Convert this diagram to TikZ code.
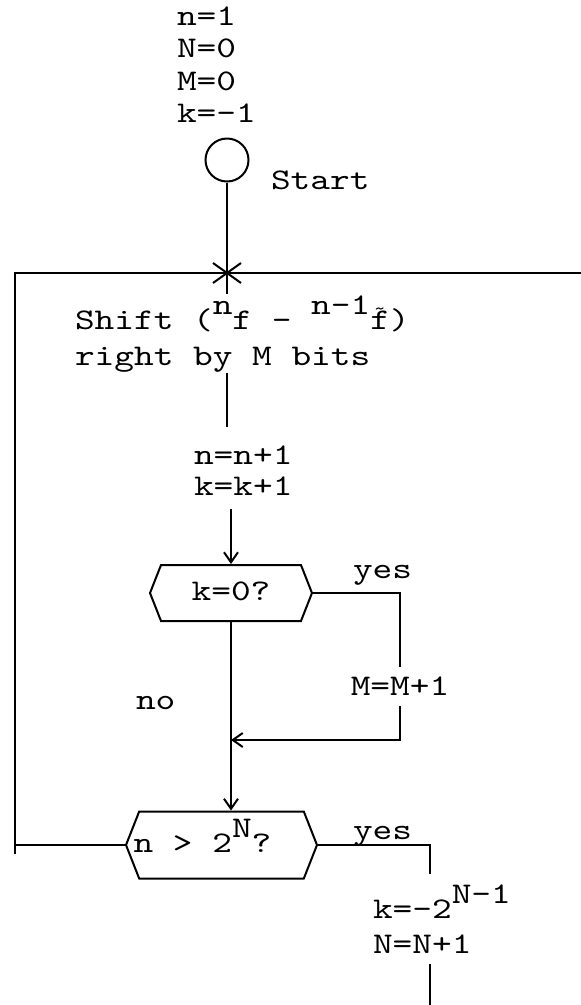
\documentclass[tikz,border=0pt]{standalone}
\usepackage{fontspec}
\setmainfont{lmmono10-regular.otf}[FakeStretch=1.25]
\usetikzlibrary{arrows.meta,shapes.symbols}
\newcommand\tup[1]{\raisebox{0.5em}{#1}}
\newcommand\ftil{\makebox[0pt][l]{\hspace{0.12em}\raisebox{0.5em}{\fontsize{18}{18}\selectfont\char"7E}}f}

\begin{document}
\begin{tikzpicture}[x=1pt, y=-1pt, line width=2pt,
  every node/.style={font=\fontsize{30}{36}\selectfont, inner sep=0pt},
  txt/.style={anchor=base west},
  dec/.style={draw, signal, signal to=east and west, signal pointer angle=137, text height=19pt, text depth=4pt},
  >={Straight Barb[length=10pt, width=14pt]}]
  \useasboundingbox (0,0) rectangle (581,1005);
  \foreach \v [count=\i] in {n=1, N=0, M=0, k=-1}
    \node[txt] (init\i) at (176, {25+32.5*(\i-1)}) {\v};
  \node[draw, circle, minimum size=43pt] (start) at (227,160) {};
  \node[txt] (startlbl) at (270,189) {Start};
  \node[txt] (shift1) at (74,329) {Shift (\tup{n}f - \tup{n-1}\ftil)};
  \node[txt] (shift2) at (74,365) {right by M bits};
  \node[txt] (inc1) at (193,464) {n=n+1};
  \node[txt] (inc2) at (193,495) {k=k+1};
  \node[dec, minimum width=162pt, minimum height=56pt] (kq) at (231,593) {k=0?};
  \node[txt] (yes1) at (352,578) {yes};
  \node[anchor=base] (madd) at (400,695) {M=M+1};
  \node[txt] (no) at (135,709) {no};
  \node[dec, minimum width=191pt, minimum height=67pt] (nq) at (221.5,845) {\hspace*{-38pt}n > 2\tup{N}?};
  \node[txt] (yes2) at (352,839) {yes};
  \node[txt] (kset) at (372,918) {k=-2\tup{N-1}};
  \node[txt] (nset) at (372,953) {N=N+1};

  \coordinate (join) at (227,273);
  \coordinate (loopl) at (15,273);
  \coordinate (loopr) at (581,273);
  \coordinate (mjoin) at (400,740);
  \coordinate (nyes) at (430,845);
  \coordinate (out) at (430,1005);

  \draw (start) -- (start |- shift1.north);
  \draw ([shift={(-14,-10)}]join) -- ([shift={(14,10)}]join)
        ([shift={(-14,10)}]join) -- ([shift={(14,-10)}]join);
  \draw (nq.west) -- (nq.west -| loopl);
  \draw ([yshift=-9pt]nq.west -| loopl) -- (loopl) -- (loopr);
  \draw[shorten >=17pt] (start |- shift2.south) -- (start |- inc1.north);
  \draw[->, shorten <=13pt] (kq.north |- inc2.south) -- (kq.north);
  \draw[->] (kq.south) -- (kq.south |- nq.north);
  \draw[shorten >=8pt] (kq.east) -| (madd.north);
  \draw[->, shorten <=10pt] (madd.south) -- (mjoin) -- (kq.south |- mjoin);
  \draw[shorten >=9pt] (nq.east) -| (nyes |- kset.north);
  \draw[shorten <=10pt] (nyes |- nset.south) -- (out);
\end{tikzpicture}
\end{document}
